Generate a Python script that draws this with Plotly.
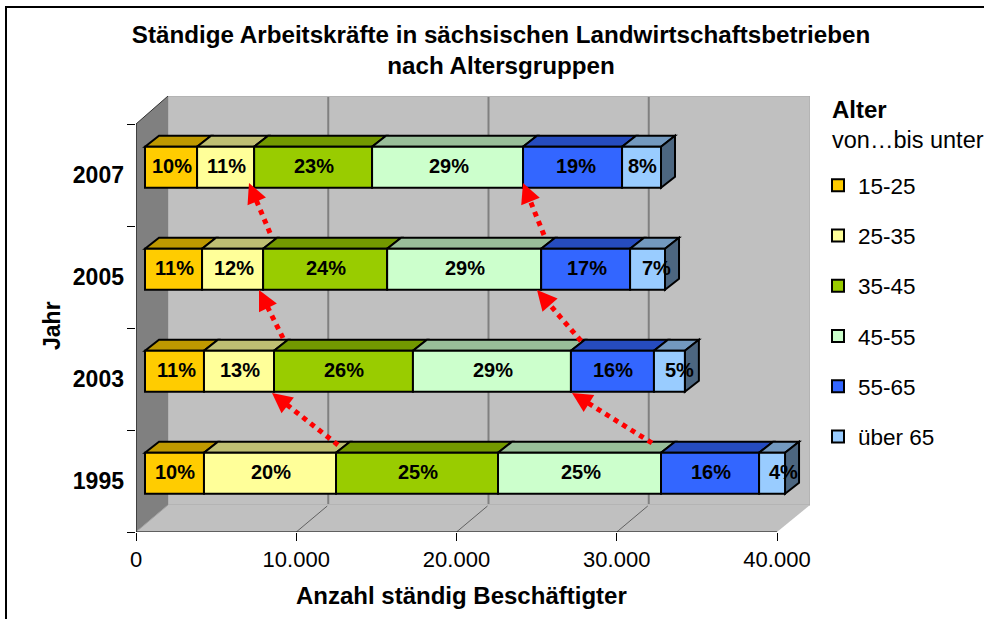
import plotly.graph_objects as go

years = ["1995", "2003", "2005", "2007"]
age_groups = ["15-25", "25-35", "35-45", "45-55", "55-65", "über 65"]
age_15_25 = [3680, 3680, 3560, 3250]
age_25_35 = [8240, 4370, 3810, 3560]
age_35_45 = [10110, 8670, 7740, 7360]
age_45_55 = [10170, 9860, 9610, 9420]
age_55_65 = [6120, 5180, 5550, 6180]
age_65_up = [1620, 1930, 2180, 2430]
pct_1995 = [10, 20, 25, 25, 16, 4]
pct_2003 = [11, 13, 26, 29, 16, 5]
pct_2005 = [11, 12, 24, 29, 17, 7]
pct_2007 = [10, 11, 23, 29, 19, 8]
x_ticks = [0, 10000, 20000, 30000, 40000]
x_tick_labels = ["0", "10.000", "20.000", "30.000", "40.000"]
front_colors = ["#FFCC00", "#FFFF99", "#99CC00", "#CCFFCC", "#3366FF", "#99CCFF"]
top_colors = ["#BF9900", "#BFBF73", "#739900", "#99BF99", "#264CBF", "#7399BF"]
side_color = "#4C6680"

series = [age_15_25, age_25_35, age_35_45, age_45_55, age_55_65, age_65_up]
percents = [pct_1995, pct_2003, pct_2005, pct_2007]

W, H = 984, 619
L, R, T, B = 136, 810, 96, 532
CAT_PX = 102.0
UNIT_PX = 160.25 / 10000
X_MAX = (R - L) / UNIT_PX
Y_MAX = (B - T) / CAT_PX - 0.5
FONT = "Liberation Sans, Arial, sans-serif"


def xv(px):
    return (px - L) / UNIT_PX


def yv(py):
    return (B - py) / CAT_PX - 0.5


def poly(points, fill, line="rgba(0,0,0,0)", width=0, layer="below"):
    path = "M" + " L".join(f"{x:.3f},{y:.4f}" for x, y in points) + " Z"
    return dict(type="path", path=path, xref="x", yref="y", fillcolor=fill,
                line=dict(color=line, width=width), layer=layer)


def seg(x0, y0, x1, y1, color, width, dash="solid", layer="below"):
    return dict(type="line", xref="x", yref="y", x0=x0, y0=y0, x1=x1, y1=y1,
                line=dict(color=color, width=width, dash=dash), layer=layer)


BAR_DX = 9 / UNIT_PX        # bars sit inside the depth of the floor
BAR_DY = 7.8 / CAT_PX
BAR_H = 41 / CAT_PX
DEPTH_X = 14 / UNIT_PX
DEPTH_Y = 11 / CAT_PX

shapes = []
# walls and floor
shapes.append(poly([(xv(168), yv(96)), (xv(810), yv(96)), (xv(810), yv(505)), (xv(168), yv(505))],
                   "#C0C0C0", "#A8A8A8", 1))
shapes.append(poly([(xv(136), yv(532)), (xv(777), yv(532)), (xv(810), yv(505)), (xv(168), yv(505))],
                   "#C0C0C0"))
shapes.append(poly([(xv(136), yv(124)), (xv(168), yv(96)), (xv(168), yv(505)), (xv(136), yv(532))],
                   "#808080"))
shapes.append(seg(xv(136), yv(124), xv(168), yv(96), "#303030", 1))
shapes.append(seg(xv(136), yv(532), xv(168), yv(505), "#A0A0A0", 1))
# gridlines
for tick in x_ticks[1:4]:
    shapes.append(seg(tick + xv(168), yv(97), tick + xv(168), yv(504), "#808080", 2))
    shapes.append(seg(tick, yv(532), tick + xv(167), yv(506), "#606060", 1))
# axis lines
shapes.append(seg(0, yv(124), 0, yv(532), "#000000", 1))
shapes.append(seg(0, yv(532), x_ticks[-1], yv(532), "#000000", 1))
# chart frame
shapes.append(dict(type="rect", xref="paper", yref="paper",
                   x0=(6 - L) / (R - L), x1=(990 - L) / (R - L),
                   y0=(B - 625) / (B - T), y1=(B - 7) / (B - T),
                   line=dict(color="#000000", width=2), fillcolor="rgba(0,0,0,0)", layer="below"))

bars = []
annotations = []
label_nudge = {(0, 5): 10, (1, 5): 9.5, (2, 5): 7.5, (1, 0): 1.5, (3, 4): 2}
cumulative = [[0] * 4]
for values in series:
    cumulative.append([c + v for c, v in zip(cumulative[-1], values)])

for s, (name, values) in enumerate(zip(age_groups, series)):
    bases = [c + BAR_DX for c in cumulative[s]]
    bars.append(go.Bar(y=years, x=values, base=bases, name=name, orientation="h",
                       width=BAR_H, offset=-BAR_H / 2 + BAR_DY, legendgroup=name,
                       marker=dict(color=front_colors[s], line=dict(color="#000000", width=2))))
    for i in range(4):
        x0, x1 = bases[i], bases[i] + values[i]
        top = i + BAR_DY + BAR_H / 2
        shapes.append(poly([(x0, top), (x1, top), (x1 + DEPTH_X, top + DEPTH_Y), (x0 + DEPTH_X, top + DEPTH_Y)],
                           top_colors[s], "#000000", 2))
        if s == len(series) - 1:
            bottom = top - BAR_H
            shapes.append(poly([(x1, top), (x1 + DEPTH_X, top + DEPTH_Y),
                                (x1 + DEPTH_X, bottom + DEPTH_Y), (x1, bottom)],
                               side_color, "#000000", 2))
        annotations.append(dict(x=(x0 + x1) / 2, y=i + BAR_DY, xref="x", yref="y",
                                text=f"<b>{percents[i][s]}%</b>", showarrow=False,
                                xshift=label_nudge.get((i, s), 0) + 1, yshift=1,
                                font=dict(family=FONT, size=20, color="#000000")))

# dotted trend arrows: (start x px, start y px, tip x px, tip y px)
arrows = [(338, 445, 272, 393), (652, 443, 572, 393), (283, 338, 259, 290),
          (581, 341, 537, 290), (270, 233, 249, 183), (544, 235, 523, 183)]
for x0, y0, x1, y1 in arrows:
    length = ((x0 - x1) ** 2 + (y0 - y1) ** 2) ** 0.5
    ux, uy = (x0 - x1) / length, (y0 - y1) / length
    shapes.append(seg(xv(x0), yv(y0), xv(x1 + ux * 12), yv(y1 + uy * 12), "#FF0000", 5, "5px,5px", "above"))
    annotations.append(dict(x=xv(x1), y=yv(y1), xref="x", yref="y", text="", showarrow=True,
                            ax=ux * 15, ay=uy * 15, arrowhead=2, arrowsize=1.0, arrowwidth=4,
                            arrowcolor="#FF0000", standoff=0))


def px_note(text, x, y, size, xanchor="left", angle=0):
    annotations.append(dict(text=text, xref="paper", yref="paper", x=(x - L) / (R - L),
                            y=(B - y) / (B - T), xanchor=xanchor, yanchor="middle",
                            showarrow=False, textangle=angle,
                            font=dict(family=FONT, size=size, color="#000000")))


px_note("<b>Alter</b>", 830, 109, 24)
px_note("von…bis unter", 830, 140, 23.5)
px_note("<b>Anzahl ständig Beschäftigter</b>", 461, 595, 24, "center")
px_note("<b>Jahr</b>", 52, 326, 23, "center", -90)

fig = go.Figure(bars)
fig.update_layout(
    width=W, height=H, autosize=False,
    margin=dict(l=L, r=W - R, t=T, b=H - B, pad=0),
    paper_bgcolor="#FFFFFF", plot_bgcolor="rgba(0,0,0,0)",
    barmode="overlay",
    shapes=shapes, annotations=annotations,
    font=dict(family=FONT, color="#000000"),
    title=dict(text="<b>Ständige Arbeitskräfte in sächsischen Landwirtschaftsbetrieben<br>nach Altersgruppen</b>",
               x=501 / W, xanchor="center", y=1 - 43 / H, yanchor="top",
               font=dict(family=FONT, size=24.2, color="#000000")),
    legend=dict(x=(818 - L) / (R - L), xanchor="left", y=(B - 164) / (B - T), yanchor="top",
                traceorder="grouped", tracegroupgap=18, font=dict(family=FONT, size=22.5, color="#000000"),
                bgcolor="rgba(0,0,0,0)", itemclick=False, itemdoubleclick=False),
    xaxis=dict(range=[0, X_MAX], tickvals=x_ticks, ticktext=x_tick_labels, ticks="outside", ticklen=8,
               tickcolor="#000000", tickwidth=1, showgrid=False, zeroline=False, showline=False,
               tickfont=dict(family=FONT, size=22, color="#000000")),
    yaxis=dict(type="category", categoryorder="array", categoryarray=years, range=[-0.5, Y_MAX],
               tickson="boundaries", ticks="outside", ticklen=8, tickcolor="#000000", tickwidth=1,
               showgrid=False, zeroline=False, showline=False, ticklabelstandoff=11,
               tickfont=dict(family=FONT, size=23, color="#000000", weight="bold")),
)
fig.write_html("out.html", config={"displayModeBar": False},
               post_script="document.body.style.margin='0';document.body.style.overflow='hidden';")
